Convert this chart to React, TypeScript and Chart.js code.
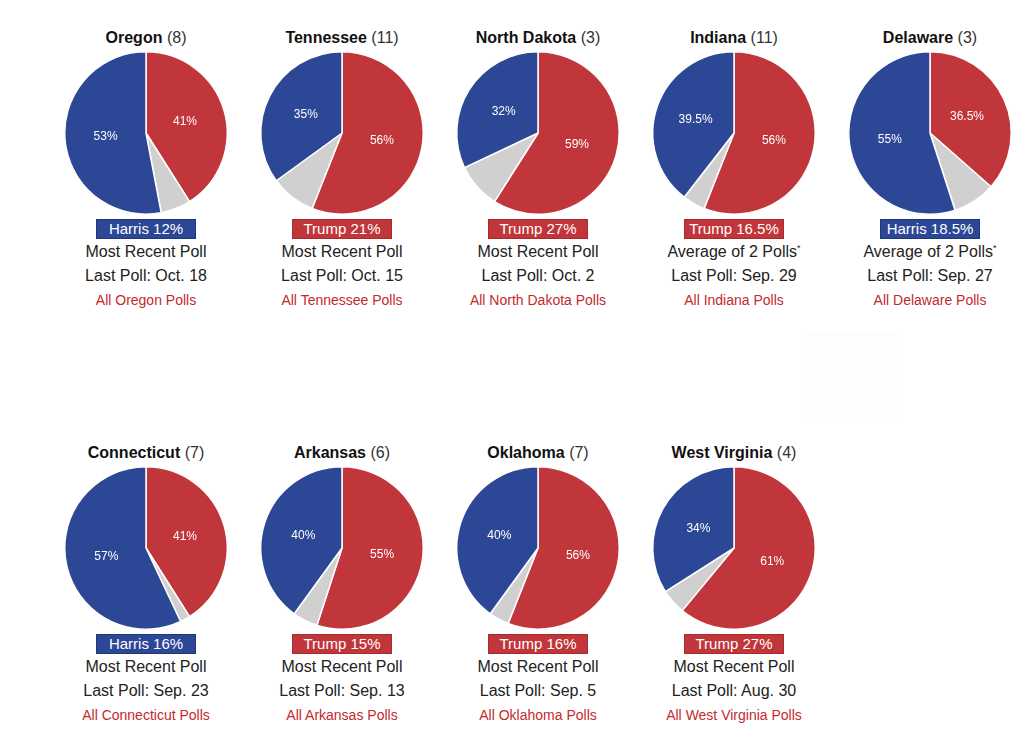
import React, { useEffect, useRef } from "react";
import { Chart, registerables } from "chart.js";

Chart.register(...registerables);

const states = ["Oregon", "Tennessee", "North Dakota", "Indiana", "Delaware", "Connecticut", "Arkansas", "Oklahoma", "West Virginia"];
const electoralVotes = [8, 11, 3, 11, 3, 7, 6, 7, 4];
const harrisPct = [53, 35, 32, 39.5, 55, 57, 40, 40, 34];
const trumpPct = [41, 56, 59, 56, 36.5, 41, 55, 56, 61];
const pollTypes = ["Most Recent Poll", "Most Recent Poll", "Most Recent Poll", "Average of 2 Polls", "Average of 2 Polls", "Most Recent Poll", "Most Recent Poll", "Most Recent Poll", "Most Recent Poll"];
const lastPollDates = ["Oct. 18", "Oct. 15", "Oct. 2", "Sep. 29", "Sep. 27", "Sep. 23", "Sep. 13", "Sep. 5", "Aug. 30"];

const BLUE = "#2c4795";
const RED = "#c1363a";
const GREY = "#d0d0d0";
const LINK = "#c4292c";
const FONT = "'Liberation Sans', Arial, Helvetica, sans-serif";

const labelPlugin = {
  id: "sliceLabels",
  afterDatasetsDraw(chart: any) {
    const ctx = chart.ctx;
    const meta = chart.getDatasetMeta(0);
    const data = chart.data.datasets[0].data as number[];
    ctx.save();
    ctx.fillStyle = "#ffffff";
    ctx.font = "12px " + FONT;
    ctx.textAlign = "center";
    ctx.textBaseline = "middle";
    meta.data.forEach((arc: any, i: number) => {
      if (i === 1) return;
      const { x, y, startAngle, endAngle, outerRadius } = arc.getProps(["x", "y", "startAngle", "endAngle", "outerRadius"], true);
      const mid = (startAngle + endAngle) / 2;
      const r = outerRadius * 0.5;
      ctx.fillText(data[i] + "%", x + Math.cos(mid) * r, y + Math.sin(mid) * r);
    });
    ctx.restore();
  },
};

function Pie({ idx }: { idx: number }) {
  const ref = useRef<HTMLCanvasElement>(null);
  useEffect(() => {
    const other = Math.round((100 - harrisPct[idx] - trumpPct[idx]) * 10) / 10;
    const chart = new Chart(ref.current as HTMLCanvasElement, {
      type: "pie",
      data: {
        labels: ["Trump", "Other", "Harris"],
        datasets: [
          {
            data: [trumpPct[idx], other, harrisPct[idx]],
            backgroundColor: [RED, GREY, BLUE],
            borderColor: "#ffffff",
            borderWidth: 1.5,
          },
        ],
      },
      options: {
        animation: false,
        responsive: false,
        maintainAspectRatio: false,
        layout: { padding: 0 },
        plugins: { legend: { display: false }, tooltip: { enabled: false } },
      },
      plugins: [labelPlugin],
    });
    return () => chart.destroy();
  }, [idx]);
  return <canvas ref={ref} width={196} height={164} style={{ position: "absolute", left: 0, top: 51, width: 196, height: 164 }} />;
}

function Cell({ idx }: { idx: number }) {
  const col = idx < 5 ? idx : idx - 5;
  const row = idx < 5 ? 0 : 1;
  const left = 48 + col * 196;
  const top = row * 415;
  const diff = harrisPct[idx] - trumpPct[idx];
  const harrisLeads = diff > 0;
  const marginText = (harrisLeads ? "Harris " : "Trump ") + Math.abs(Math.round(diff * 10) / 10) + "%";
  const isAvg = pollTypes[idx].startsWith("Average");
  const lineStyle: React.CSSProperties = {
    position: "absolute",
    left: 0,
    width: 196,
    textAlign: "center",
    fontSize: 16,
    lineHeight: "20px",
    color: "#222",
    whiteSpace: "nowrap",
  };
  return (
    <div style={{ position: "absolute", left, top, width: 196, height: 320, fontFamily: FONT }}>
      <div style={{ ...lineStyle, top: 28, color: "#111" }}>
        <b>{states[idx]}</b> <span style={{ color: "#333" }}>({electoralVotes[idx]})</span>
      </div>
      <Pie idx={idx} />
      <div
        style={{
          position: "absolute",
          left: 48,
          top: 219,
          width: 98,
          height: 18,
          lineHeight: "18px",
          background: harrisLeads ? BLUE : RED,
          border: "1px solid " + (harrisLeads ? "#1f3677" : "#a82a2e"),
          color: "#fff",
          textAlign: "center",
          fontSize: 15,
          whiteSpace: "nowrap",
        }}
      >
        {marginText}
      </div>
      <div style={{ ...lineStyle, top: 242 }}>
        {pollTypes[idx]}
        {isAvg ? <sup style={{ fontSize: 9, verticalAlign: "top", position: "relative", top: -4 }}>*</sup> : null}
      </div>
      <div style={{ ...lineStyle, top: 266 }}>Last Poll: {lastPollDates[idx]}</div>
      <div style={{ ...lineStyle, top: 290, fontSize: 14, color: LINK }}>All {states[idx]} Polls</div>
    </div>
  );
}

export default function App() {
  return (
    <div style={{ position: "absolute", left: 0, top: 0, width: 1024, height: 744, background: "#fff", overflow: "hidden" }}>
      <div style={{ position: "absolute", left: 802, top: 333, width: 100, height: 85, background: "#fdfdfd" }} />
      {states.map((_, i) => (
        <Cell key={i} idx={i} />
      ))}
    </div>
  );
}
